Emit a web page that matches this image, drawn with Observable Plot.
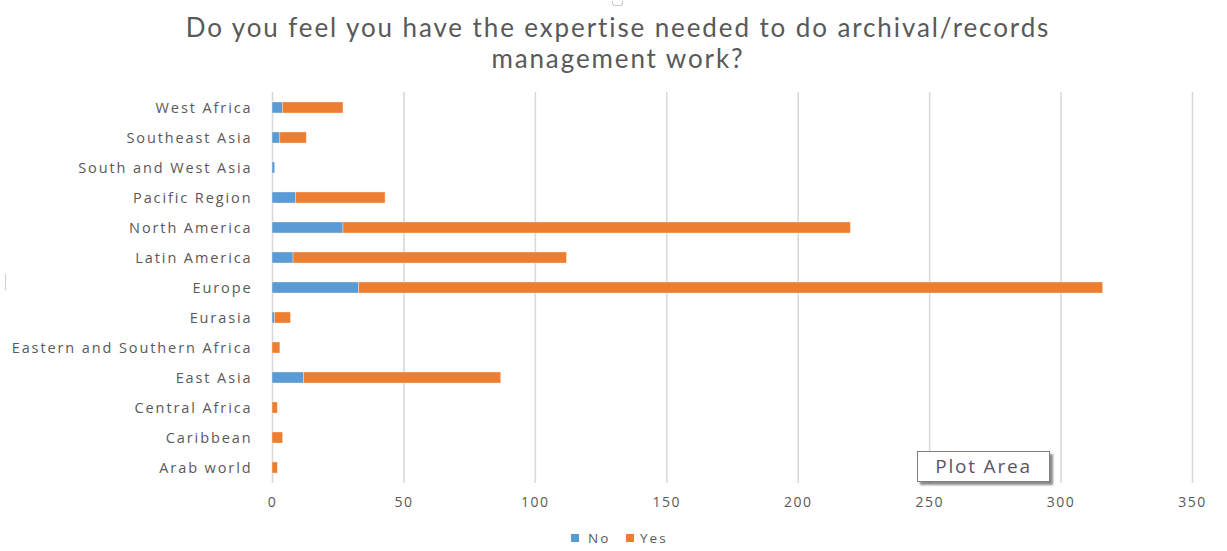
<!DOCTYPE html>
<html>
<head>
<meta charset="utf-8">
<script src="https://cdn.jsdelivr.net/npm/d3@7"></script>
<script src="https://cdn.jsdelivr.net/npm/@observablehq/plot@0.6"></script>
<style>
  html, body { margin: 0; padding: 0; background: #fff; }
  body { width: 1227px; height: 551px; position: relative; overflow: hidden; font-family: "Open Sans", sans-serif; }
  .tl { position: absolute; left: 0; width: 1236px; text-align: center; font-family: Lato, "Open Sans", sans-serif; font-size: 26px; line-height: 31px; height: 31px; color: #595959; white-space: nowrap; }
  #chart { position: absolute; left: 0; top: 80px; }
  #legend { position: absolute; top: 529px; left: 0; width: 1227px; height: 18px; font-size: 13.5px; color: #595959; letter-spacing: 2px; }
  .sw { position: absolute; top: 5px; width: 8px; height: 8px; }
  .lt { position: absolute; top: 0px; line-height: 18px; }
  #plotarea { position: absolute; left: 917px; top: 451px; width: 131px; height: 29px; border: 1px solid #7f7f7f; background: #fff; box-shadow: 3px 3px 2px rgba(0,0,0,0.45); font-size: 19px; color: #5a5468; line-height: 29px; text-align: center; letter-spacing: 1.8px; }
  #tick { position: absolute; left: 5px; top: 274px; width: 1px; height: 16px; background: #cfcfcf; }
  #handle { position: absolute; left: 612px; top: 1px; width: 9px; height: 4px; border: 1px solid #c8c8c8; border-top: none; border-radius: 0 0 3px 3px; }
</style>
</head>
<body>
<div class="tl" style="top:12px"><span id="t1">Do you feel you have the expertise needed to do archival/records</span></div>
<div class="tl" style="top:43px"><span id="t2">management work?</span></div>
<div id="handle"></div>
<div id="chart"></div>
<div id="tick"></div>
<div id="legend">
  <div class="sw" style="left:571px;background:#5B9BD5"></div><div class="lt" style="left:588px">No</div>
  <div class="sw" style="left:626px;background:#ED7D31"></div><div class="lt" style="left:640px">Yes</div>
</div>
<div id="plotarea">Plot Area</div>
<script>
const regions = ["West Africa", "Southeast Asia", "South and West Asia", "Pacific Region", "North America", "Latin America", "Europe", "Eurasia", "Eastern and Southern Africa", "East Asia", "Central Africa", "Caribbean", "Arab world"];
const noValues  = [4, 3, 1, 9, 27, 8, 33, 1, 0, 12, 0, 0, 0];
const yesValues = [23, 10, 0, 34, 193, 104, 283, 6, 3, 75, 2, 4, 2];
const seriesNames = ["No", "Yes"];
const seriesColors = ["#5B9BD5", "#ED7D31"];
const xTicks = [0, 50, 100, 150, 200, 250, 300, 350];

const rows = [];
seriesNames.forEach((s, si) => {
  const vals = si === 0 ? noValues : yesValues;
  regions.forEach((r, i) => rows.push({region: r, series: s, value: vals[i]}));
});

const chart = Plot.plot({
  width: 1227,
  height: 440,
  marginLeft: 272,
  marginRight: 35,
  marginTop: 12,
  marginBottom: 37,
  style: {fontFamily: "Open Sans, sans-serif", color: "#595959", background: "#fff"},
  x: {domain: [0, 350], ticks: xTicks, label: null},
  y: {domain: regions, paddingInner: 0.63, paddingOuter: 0.315, label: null},
  color: {domain: seriesNames, range: seriesColors},
  marks: [
    Plot.ruleX(xTicks, {stroke: "#d9d9d9", strokeWidth: 1.6}),
    Plot.barX(rows, Plot.stackX({y: "region", x: "value", fill: "series", order: seriesNames, stroke: "#fbe9dd", strokeWidth: 0.4})),
    Plot.axisX({ticks: xTicks, tickSize: 0, tickPadding: 14, fontSize: 14, label: null}),
    Plot.axisY({tickSize: 0, tickPadding: 20, fontSize: 14.5, label: null})
  ]
});
d3.select(chart).selectAll('[aria-label="y-axis tick label"] text').attr("letter-spacing", "1.9px");
d3.select(chart).selectAll('[aria-label="x-axis tick label"] text').attr("letter-spacing", "1.5px");
document.getElementById("chart").appendChild(chart);

// fit the first title line to the reference width (~865px); same spacing on line 2
const t1 = document.getElementById("t1");
const w = t1.getBoundingClientRect().width;
const n = t1.textContent.length;
const ls = Math.max(0, (865 - w) / n);
t1.style.letterSpacing = ls + "px";
document.getElementById("t2").style.letterSpacing = ls + "px";
</script>
</body>
</html>
